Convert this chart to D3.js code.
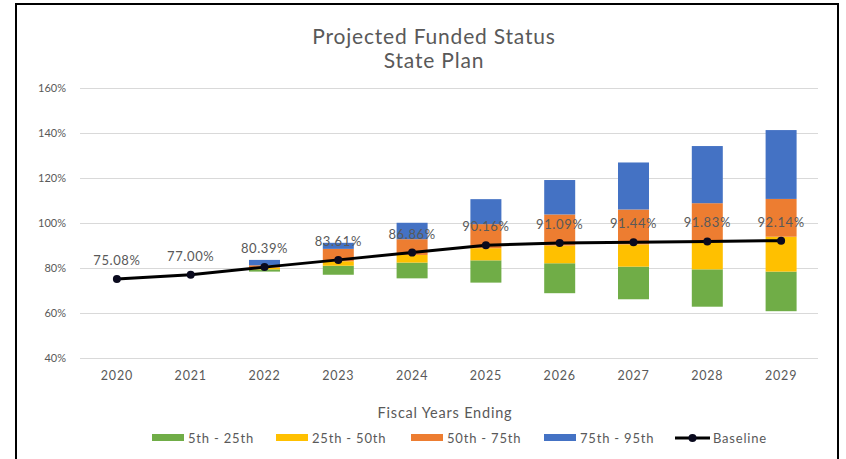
<!DOCTYPE html>
<html>
<head>
<meta charset="utf-8">
<script src="https://cdn.jsdelivr.net/npm/d3@7/dist/d3.min.js"></script>
<style>
  html, body { margin: 0; padding: 0; background: #fff; }
  svg { display: block; font-family: Lato, "Open Sans", sans-serif; }
</style>
</head>
<body>
<svg id="chart" width="846" height="459"></svg>
<script>
// Fiscal years and projected funded-status percentiles (in %)
const years = ["2020", "2021", "2022", "2023", "2024", "2025", "2026", "2027", "2028", "2029"];
const p5  = [null, null, 78.4, 77.0, 75.4, 73.5, 68.8, 66.1, 62.8, 60.8];
const p25 = [null, null, 79.4, 81.0, 82.4, 83.4, 82.1, 80.6, 79.4, 78.4];
const p50 = [null, null, 80.2, 83.0, 85.8, 88.8, 90.0, 90.5, 91.5, 93.9];
const p75 = [null, null, 81.2, 88.5, 92.8, 99.5, 103.8, 106.0, 108.8, 110.7];
const p95 = [null, null, 83.6, 91.2, 100.1, 110.6, 119.1, 126.9, 134.2, 141.3];
const baseline = [75.08, 77.00, 80.39, 83.61, 86.86, 90.16, 91.09, 91.44, 91.83, 92.14];

const yTicks = [40, 60, 80, 100, 120, 140, 160];
const bandNames = ["5th - 25th", "25th - 50th", "50th - 75th", "75th - 95th"];
const bandColors = ["#70AD47", "#FFC000", "#ED7D31", "#4472C4"];
const titleLines = ["Projected Funded Status", "State Plan"];
const xTitle = "Fiscal Years Ending";

const textColor = "#595959";
const svg = d3.select("#chart");

// outer frame
svg.append("rect")
  .attr("x", 16).attr("y", 4).attr("width", 822).attr("height", 470)
  .attr("fill", "#fff").attr("stroke", "#000").attr("stroke-width", 2);

const plot = { left: 80, right: 818, top: 88, bottom: 358 };

const x = d3.scaleBand().domain(years).range([plot.left, plot.right]).paddingInner(0.58).paddingOuter(0.29);
const y = d3.scaleLinear().domain([40, 160]).range([plot.bottom, plot.top]);
const cx = d => x(d) + x.bandwidth() / 2;

// title
svg.append("g").selectAll("text").data(titleLines).join("text")
  .attr("x", 434).attr("y", (d, i) => 44 + i * 24)
  .attr("text-anchor", "middle")
  .attr("font-size", 21).attr("letter-spacing", 0.8).attr("fill", textColor)
  .text(d => d);

// gridlines and y axis
const yAxis = d3.axisLeft(y).tickValues(yTicks).tickFormat(d => d + "%")
  .tickSize(-(plot.right - plot.left)).tickPadding(14);
const yg = svg.append("g").attr("transform", `translate(${plot.left},0)`).call(yAxis);
yg.select(".domain").remove();
yg.selectAll(".tick line").attr("stroke", "#D9D9D9").attr("stroke-width", 1);
yg.selectAll(".tick text").attr("fill", textColor).attr("font-size", 11).attr("font-family", "Lato, sans-serif");

// x axis labels
const xAxis = d3.axisBottom(x).tickSize(0).tickPadding(13);
const xg = svg.append("g").attr("transform", `translate(0,${plot.bottom})`).call(xAxis);
xg.select(".domain").remove();
xg.selectAll(".tick text").attr("fill", textColor).attr("font-size", 12.5).attr("letter-spacing", 0.8)
  .attr("font-family", "Lato, sans-serif");

// stacked percentile bands
const levels = [p5, p25, p50, p75, p95];
bandNames.forEach((name, k) => {
  const lo = levels[k], hi = levels[k + 1];
  const rows = years.map((yr, i) => ({ yr, lo: lo[i], hi: hi[i] })).filter(r => r.lo != null);
  svg.append("g").selectAll("rect").data(rows).join("rect")
    .attr("x", r => x(r.yr))
    .attr("width", x.bandwidth())
    .attr("y", r => y(r.hi))
    .attr("height", r => y(r.lo) - y(r.hi))
    .attr("fill", bandColors[k]);
});

// baseline line with markers
const pts = years.map((yr, i) => ({ yr, v: baseline[i] }));
svg.append("path").datum(pts)
  .attr("fill", "none").attr("stroke", "#000").attr("stroke-width", 3)
  .attr("d", d3.line().x(d => cx(d.yr)).y(d => y(d.v)));
svg.append("g").selectAll("circle").data(pts).join("circle")
  .attr("cx", d => cx(d.yr)).attr("cy", d => y(d.v)).attr("r", 4)
  .attr("fill", "#0A0A1E");

// baseline value labels
svg.append("g").selectAll("text").data(pts).join("text")
  .attr("x", d => cx(d.yr)).attr("y", d => y(d.v) - 14)
  .attr("text-anchor", "middle").attr("font-size", 13).attr("letter-spacing", 0.6).attr("fill", textColor)
  .text(d => d.v.toFixed(2) + "%");

// axis title
svg.append("text").attr("x", 445).attr("y", 418).attr("text-anchor", "middle")
  .attr("font-size", 14.5).attr("letter-spacing", 0.8).attr("fill", textColor).text(xTitle);

// legend
const legend = svg.append("g").attr("transform", "translate(0,438)");
const legendX = [152, 276, 411, 544];
bandNames.forEach((name, k) => {
  legend.append("rect").attr("x", legendX[k]).attr("y", -4).attr("width", 32).attr("height", 7).attr("fill", bandColors[k]);
  legend.append("text").attr("x", legendX[k] + 36).attr("y", 4.5).attr("font-size", 13).attr("letter-spacing", 0.8)
    .attr("fill", textColor).text(name);
});
legend.append("line").attr("x1", 675).attr("x2", 710).attr("y1", 0).attr("y2", 0).attr("stroke", "#000").attr("stroke-width", 3);
legend.append("circle").attr("cx", 692.5).attr("cy", 0).attr("r", 4).attr("fill", "#0A0A1E");
legend.append("text").attr("x", 713).attr("y", 4.5).attr("font-size", 13).attr("letter-spacing", 0.8)
  .attr("fill", textColor).text("Baseline");
</script>
</body>
</html>
